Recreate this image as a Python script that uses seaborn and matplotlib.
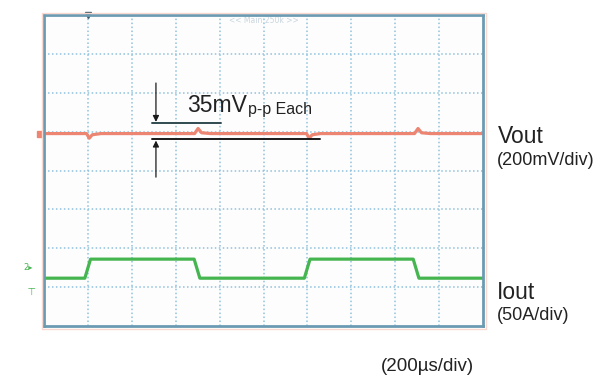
import numpy as np
import pandas as pd
import matplotlib
matplotlib.use("Agg")
import matplotlib.pyplot as plt
from matplotlib.patches import Rectangle
import seaborn as sns

# time axis in divisions (200us/div), amplitude in divisions from bottom of screen
vout_t = [0.0, 0.97, 1.03, 1.10, 1.30, 3.43, 3.51, 3.59, 3.80, 5.98, 6.04, 6.11, 6.30, 8.44, 8.52, 8.60, 8.80, 10.0]
vout_v = [4.95, 4.95, 4.83, 4.92, 4.95, 4.95, 5.08, 4.97, 4.95, 4.95, 4.83, 4.92, 4.95, 4.95, 5.08, 4.97, 4.95, 4.95]

iout_t = [0.0, 0.93, 1.06, 3.42, 3.55, 5.93, 6.06, 8.41, 8.54, 10.0]
iout_v = [1.23, 1.23, 1.72, 1.72, 1.23, 1.23, 1.72, 1.72, 1.23, 1.23]

vout_df = pd.DataFrame({"t": vout_t, "v": vout_v})
iout_df = pd.DataFrame({"t": iout_t, "v": iout_v})

sns.set_style("white")
plt.rcParams["font.family"] = ["Liberation Sans", "DejaVu Sans"]

fig = plt.figure(figsize=(6.04, 3.77), dpi=100)
ax = fig.add_axes([44 / 604, 1 - 326 / 377, 439 / 604, 311 / 377])
ax.set_facecolor("#fdfdfe")

# faint pinkish glow around screen frame
fig.patches.append(Rectangle((41.5 / 604, 1 - 328.5 / 377), 444 / 604, 316 / 377,
                             transform=fig.transFigure, fill=False,
                             edgecolor="#f8d8cf", linewidth=1.0, zorder=0))

ax.set_xlim(0, 10)
ax.set_ylim(0, 8)
ax.set_xticks(np.arange(1, 10))
ax.set_yticks(np.arange(1, 8))
ax.tick_params(length=0, labelbottom=False, labelleft=False)
ax.grid(True, color="#8fc2dc", linestyle=(0, (1, 1.6)), linewidth=1.1)
for s in ax.spines.values():
    s.set_color("#6b9bb2")
    s.set_linewidth(2)
    s.set_zorder(5)

sns.lineplot(data=vout_df, x="t", y="v", ax=ax, color="#ec8672", linewidth=2.3,
             estimator=None, sort=False)
sns.lineplot(data=iout_df, x="t", y="v", ax=ax, color="#45b550", linewidth=2.3,
             estimator=None, sort=False)
ax.set_xlabel("")
ax.set_ylabel("")

# screen markers
ax.plot([-0.1], [4.95], marker="s", markersize=5, color="#ec8672", clip_on=False)
ax.text(-0.35, 1.5, "2▸", color="#45b550", fontsize=6, ha="center", va="center",
        family=["DejaVu Sans"])
ax.text(-0.3, 0.95, "⊥", color="#45b550", fontsize=7, ha="center", va="center",
        family=["DejaVu Sans"], rotation=180)
ax.plot([1.0], [8.0], marker="v", markersize=4, color="#3d5766", clip_on=False)
ax.text(5.0, 7.85, "<< Main:250k >>", color="#c9d6de", fontsize=5.5,
        ha="center", va="center", family=["DejaVu Sans"])

# 35mV p-p annotation
ax.plot([2.46, 4.03], [5.22, 5.22], color="#2f4a4f", linewidth=1.4)
ax.plot([2.46, 6.29], [4.81, 4.81], color="#1a1a1a", linewidth=1.4)
ax.annotate("", xy=(2.55, 5.25), xytext=(2.55, 6.25),
            arrowprops=dict(arrowstyle="-|>", color="#1a1a1a", lw=0.9,
                            mutation_scale=9, shrinkA=0, shrinkB=0))
ax.annotate("", xy=(2.55, 4.77), xytext=(2.55, 3.83),
            arrowprops=dict(arrowstyle="-|>", color="#1a1a1a", lw=0.9,
                            mutation_scale=9, shrinkA=0, shrinkB=0))
ax.text(3.26, 5.50, "35mV", fontsize=16.5, color="#222222", ha="left", va="baseline")
ax.text(4.65, 5.46, "p-p Each", fontsize=11.5, color="#222222", ha="left", va="baseline")

# right-hand labels
fig.text(498 / 604, 1 - 143 / 377, "Vout", fontsize=16.5, color="#222222", va="baseline")
fig.text(497 / 604, 1 - 165 / 377, "(200mV/div)", fontsize=13, color="#222222", va="baseline")
fig.text(497 / 604, 1 - 299 / 377, "Iout", fontsize=16.5, color="#222222", va="baseline")
fig.text(497 / 604, 1 - 320 / 377, "(50A/div)", fontsize=13, color="#222222", va="baseline")
fig.text(381 / 604, 1 - 371 / 377, "(200µs/div)", fontsize=13.5, color="#222222", va="baseline")

fig.savefig("out.png", dpi=100)
